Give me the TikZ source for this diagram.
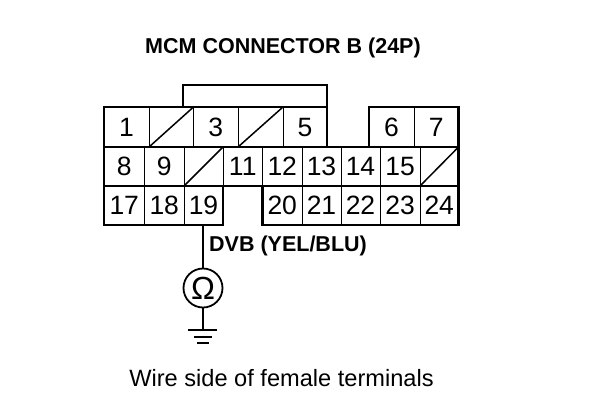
\documentclass[tikz,border=0pt]{standalone}
\usepackage{fontspec}
\setmainfont{Liberation Sans}
\begin{document}
\begin{tikzpicture}[x=1pt,y=-1pt,
  cellbox/.style={draw=black,line width=0.9pt,inner sep=0pt,outer sep=0pt,font=\fontsize{26.5}{26.5}\selectfont,text depth=0pt},
  outline/.style={draw=black,line width=2.3pt,line join=miter},
  wire/.style={draw=black,line width=1.3pt},
  titlefont/.style={font=\fontsize{21.5}{22}\selectfont\bfseries,inner sep=0pt},
  labelfont/.style={font=\fontsize{21.5}{22}\selectfont\bfseries,inner sep=0pt},
  notefont/.style={font=\fontsize{23.6}{25}\selectfont,inner sep=0pt}]
\useasboundingbox (0,0) rectangle (608,408);
\fill[white] (0,0) rectangle (608,408);
% top row
\foreach \na/\xa/\xb/\txt in {c1/104/149/1,c2/149/193.5/,c3/193.5/238/3,c4/238/283/,c5/283/327/5,c6/369/414/6,c7/414/458.5/7}{
  \node[cellbox,minimum width={\xb pt-\xa pt},minimum height=40pt] (\na) at ({(\xa+\xb)/2},127) {\txt};
}
% middle row
\foreach \na/\xa/\xb/\txt in {c8/104/144.5/8,c9/144.5/184/9,c10/184/223/,c11/223/262.5/11,c12/262.5/302/12,c13/302/341/13,c14/341/380/14,c15/380/420/15,c16/420/458.5/}{
  \node[cellbox,minimum width={\xb pt-\xa pt},minimum height=39pt] (\na) at ({(\xa+\xb)/2},166.5) {\txt};
}
% bottom row
\foreach \na/\xa/\xb/\txt in {c17/104/144.5/17,c18/144.5/184/18,c19/184/223/19,c20/262.5/302/20,c21/302/341/21,c22/341/380/22,c23/380/420/23,c24/420/458.5/24}{
  \node[cellbox,minimum width={\xb pt-\xa pt},minimum height=39pt] (\na) at ({(\xa+\xb)/2},205.5) {\txt};
}
% empty terminals: diagonal slashes
\foreach \na in {c2,c4,c10,c16}{
  \draw[black,line width=1.5pt] (\na.south west) -- (\na.north east);
}
% connector outline with locking tab
\draw[outline] (183,107) -- (183,85) -- (327,85) -- (327,107);
\draw[outline] (104,107) -- (327,107) -- (327,147) -- (369,147) -- (369,107) -- (458.5,107)
  -- (458.5,225) -- (262.5,225) -- (262.5,186) -- (223,186) -- (223,225) -- (104,225) -- cycle;
\draw[black,line width=1.6pt] (104,147) -- (327,147) (369,147) -- (458.5,147) (104,186) -- (223,186) (262.5,186) -- (458.5,186);
% titles
\node[titlefont] (title) at (283,48) {MCM CONNECTOR B (24P)};
\node[labelfont,anchor=west] (dvb) at (209,246) {DVB (YEL/BLU)};
\node[notefont] (note) at (281.5,378) {Wire side of female terminals};
% ohmmeter and ground
\node[draw=black,line width=1.8pt,circle,minimum size=39pt,inner sep=0pt,font=\fontsize{32}{32}\selectfont] (ohm) at (203,288) {Ω};
\coordinate (gnd) at (203,330);
\coordinate (w19) at (203,225);
\draw[wire] (w19) -- (ohm.north);
\draw[wire] (ohm.south) -- (gnd);
\draw[black,line width=1.7pt] (188,330) -- (217,330);
\draw[black,line width=1.4pt] (194,337) -- (212,337);
\draw[black,line width=1.4pt] (197,343) -- (209,343);
\end{tikzpicture}
\end{document}
